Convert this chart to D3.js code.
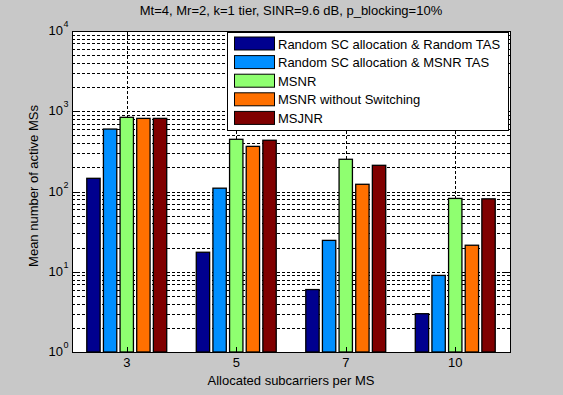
<!DOCTYPE html>
<html>
<head>
<meta charset="utf-8">
<script src="https://cdn.jsdelivr.net/npm/d3@7"></script>
<style>
  html, body { margin: 0; padding: 0; background: #c8c8c8; }
  svg { display: block; font-family: Arial, "Liberation Sans", sans-serif; }
</style>
</head>
<body>
<div id="chart"></div>
<script>
// categories on the x axis
const categories = ['3', '5', '7', '10'];

// one value per category for each series
const seriesNames = [
  'Random SC allocation & Random TAS',
  'Random SC allocation & MSNR TAS',
  'MSNR',
  'MSNR without Switching',
  'MSJNR'
];
const randomRandom = [146, 17.5, 6.0, 3.0];
const randomMsnr = [600, 110, 24.6, 9.0];
const msnr = [840, 447, 252, 82];
const msnrNoSwitch = [815, 365, 123, 21.4];
const msjnr = [815, 435, 212, 81];

const seriesColors = ['#00008f', '#008fff', '#8fff70', '#ff7000', '#800000'];
const yTicks = [1, 10, 100, 1000, 10000];

const title = 'Mt=4, Mr=2, k=1 tier, SINR=9.6 dB, p_blocking=10%';
const xLabel = 'Allocated subcarriers per MS';
const yLabel = 'Mean number of active MSs';

const width = 563, height = 395;
const margin = { left: 72, top: 31, right: 53, bottom: 43 };
const plotW = width - margin.left - margin.right;
const plotH = height - margin.top - margin.bottom;

const allSeries = [randomRandom, randomMsnr, msnr, msnrNoSwitch, msjnr];

const svg = d3.select('#chart')
  .append('svg')
  .attr('width', width)
  .attr('height', height);

svg.append('rect')
  .attr('width', width)
  .attr('height', height)
  .attr('fill', '#c8c8c8');

// x: category index 0.5..4.5 like matlab bar
const x = d3.scaleLinear()
  .domain([0.5, categories.length + 0.5])
  .range([margin.left, margin.left + plotW]);

const y = d3.scaleLog()
  .domain([1, 10000])
  .range([margin.top + plotH, margin.top]);

const pitch = 0.152;
const barW = 0.122;

const g = svg.append('g');

g.append('rect')
  .attr('x', margin.left)
  .attr('y', margin.top)
  .attr('width', plotW)
  .attr('height', plotH)
  .attr('fill', '#fff');

// grid lines (major + minor), dashed
const minor = [];
for (let e = 0; e < 4; e++) {
  for (let m = 1; m <= 9; m++) minor.push(m * Math.pow(10, e));
}
minor.push(10000);

g.append('g')
  .selectAll('line')
  .data(minor.filter(v => v > 1 && v < 10000))
  .join('line')
  .attr('x1', margin.left)
  .attr('x2', margin.left + plotW)
  .attr('y1', d => Math.round(y(d)) + 0.5)
  .attr('y2', d => Math.round(y(d)) + 0.5)
  .attr('stroke', '#000')
  .attr('stroke-width', 1)
  .attr('stroke-dasharray', '3,2');

g.append('g')
  .selectAll('line')
  .data(categories)
  .join('line')
  .attr('x1', (d, i) => Math.round(x(i + 1)) + 0.5)
  .attr('x2', (d, i) => Math.round(x(i + 1)) + 0.5)
  .attr('y1', margin.top)
  .attr('y2', margin.top + plotH)
  .attr('stroke', '#000')
  .attr('stroke-dasharray', '3,2');

// bars
allSeries.forEach((vals, s) => {
  g.append('g')
    .selectAll('rect')
    .data(vals)
    .join('rect')
    .attr('x', (d, i) => x(i + 1 + (s - 2) * pitch - barW / 2))
    .attr('width', x(barW) - x(0))
    .attr('y', d => y(d))
    .attr('height', d => y(1) - y(d))
    .attr('fill', seriesColors[s])
    .attr('stroke', '#000')
    .attr('stroke-width', 1.3);
});

// axes box and ticks
const tickG = g.append('g').attr('stroke', '#000');
minor.forEach(v => {
  const yy = Math.round(y(v)) + 0.5;
  const len = yTicks.includes(v) ? 5 : 3;
  tickG.append('line').attr('x1', margin.left).attr('x2', margin.left + len).attr('y1', yy).attr('y2', yy);
  tickG.append('line').attr('x1', margin.left + plotW).attr('x2', margin.left + plotW - len).attr('y1', yy).attr('y2', yy);
});
categories.forEach((c, i) => {
  const xx = Math.round(x(i + 1)) + 0.5;
  tickG.append('line').attr('x1', xx).attr('x2', xx).attr('y1', margin.top + plotH).attr('y2', margin.top + plotH - 5);
  tickG.append('line').attr('x1', xx).attr('x2', xx).attr('y1', margin.top).attr('y2', margin.top + 5);
});

g.append('rect')
  .attr('x', margin.left + 0.5)
  .attr('y', margin.top + 0.5)
  .attr('width', plotW)
  .attr('height', plotH)
  .attr('fill', 'none')
  .attr('stroke', '#000');

// y tick labels: 10 with superscript exponent
const yLab = svg.append('g').attr('font-size', 13).attr('fill', '#000');
yTicks.forEach(v => {
  const yy = y(v);
  yLab.append('text')
    .attr('x', 63)
    .attr('y', yy + 4)
    .attr('text-anchor', 'end')
    .text('10');
  yLab.append('text')
    .attr('x', 63.5)
    .attr('y', yy - 4)
    .attr('font-size', 9)
    .text(Math.round(Math.log10(v)));
});

// x tick labels
svg.append('g')
  .selectAll('text')
  .data(categories)
  .join('text')
  .attr('x', (d, i) => x(i + 1))
  .attr('y', 367)
  .attr('text-anchor', 'middle')
  .attr('font-size', 13)
  .text(d => d);

svg.append('text')
  .attr('x', margin.left + plotW / 2)
  .attr('y', 385)
  .attr('text-anchor', 'middle')
  .attr('font-size', 13)
  .text(xLabel);

svg.append('text')
  .attr('transform', 'translate(38,186) rotate(-90)')
  .attr('text-anchor', 'middle')
  .attr('font-size', 13)
  .text(yLabel);

svg.append('text')
  .attr('x', margin.left + plotW / 2)
  .attr('y', 15)
  .attr('text-anchor', 'middle')
  .attr('font-size', 13)
  .text(title);

// legend
const legend = svg.append('g');
legend.append('rect')
  .attr('x', 227.5)
  .attr('y', 32.5)
  .attr('width', 281)
  .attr('height', 98)
  .attr('fill', '#fff')
  .attr('stroke', '#000');

const rows = legend.selectAll('g.row')
  .data(seriesNames)
  .join('g')
  .attr('class', 'row')
  .attr('transform', (d, i) => `translate(0,${43.5 + i * 18.6})`);

rows.append('rect')
  .attr('x', 234.5)
  .attr('y', -6.5)
  .attr('width', 40)
  .attr('height', 13)
  .attr('fill', (d, i) => seriesColors[i])
  .attr('stroke', '#000');

rows.append('text')
  .attr('x', 278)
  .attr('y', 5)
  .attr('font-size', 13)
  .text(d => d);
</script>
</body>
</html>
